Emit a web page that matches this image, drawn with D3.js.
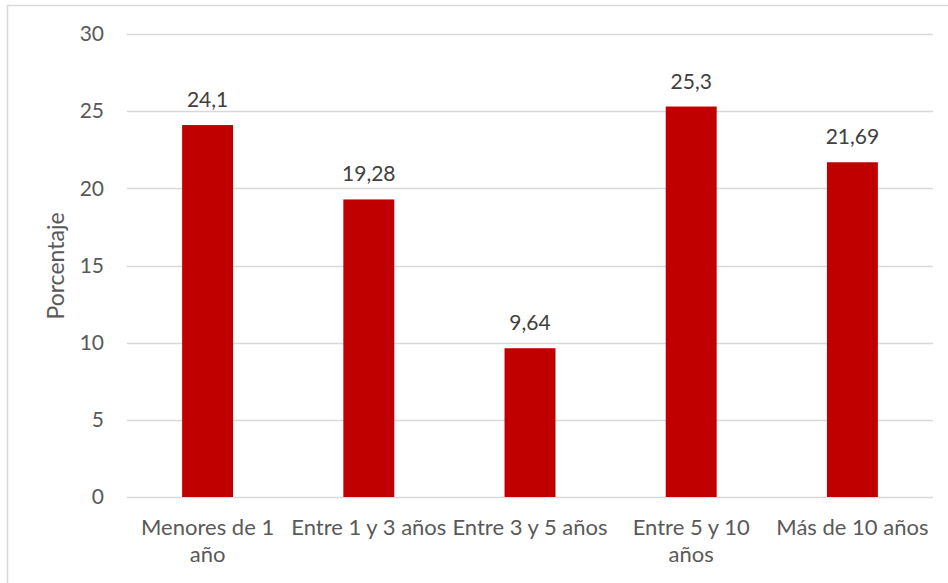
<!DOCTYPE html>
<html>
<head>
<meta charset="utf-8">
<script src="https://cdn.jsdelivr.net/npm/d3@7"></script>
<style>
  html, body { margin: 0; padding: 0; background: #fff; }
  svg { display: block; }
  text { font-family: Lato, "Open Sans", sans-serif; }
</style>
</head>
<body>
<svg id="chart" width="948" height="583"></svg>
<script>
// Antigüedad: porcentaje por tramo
const categories = ["Menores de 1\naño", "Entre 1 y 3 años", "Entre 3 y 5 años", "Entre 5 y 10\naños", "Más de 10 años"];
const values = [24.1, 19.28, 9.64, 25.3, 21.69];
const yTicks = [0, 5, 10, 15, 20, 25, 30];
const yTitle = "Porcentaje";

const svg = d3.select("#chart");
const W = 948, H = 583;
const margin = { top: 34, right: 15, bottom: 86, left: 127 };
const plotW = W - margin.left - margin.right;
const plotH = H - margin.top - margin.bottom;

// chart frame
svg.append("rect")
  .attr("x", 7.5).attr("y", 5.5)
  .attr("width", W + 10).attr("height", H + 10)
  .attr("fill", "#fff").attr("stroke", "#d9d9d9").attr("stroke-width", 1.5);

const g = svg.append("g").attr("transform", `translate(${margin.left},${margin.top})`);

const x = d3.scaleBand().domain(categories).range([0, plotW]).paddingInner(0.684).paddingOuter(0.342);
const y = d3.scaleLinear().domain([0, 30]).range([plotH, 0]);

// gridlines
g.append("g").selectAll("line").data(yTicks).join("line")
  .attr("x1", 0).attr("x2", plotW)
  .attr("y1", d => Math.round(y(d)) + 0.5).attr("y2", d => Math.round(y(d)) + 0.5)
  .attr("stroke", "#d9d9d9").attr("stroke-width", 1.3);

// y axis labels
const yAxis = g.append("g").call(d3.axisLeft(y).tickValues(yTicks).tickSize(0).tickPadding(23).tickFormat(d3.format("d")));
yAxis.select(".domain").remove();
yAxis.selectAll("text").attr("font-size", 21).attr("fill", "#595959").attr("font-family", "Lato, sans-serif");

// bars
g.append("g").selectAll("rect").data(values).join("rect")
  .attr("x", (d, i) => x(categories[i]))
  .attr("y", d => y(d))
  .attr("width", x.bandwidth())
  .attr("height", d => y(0) - y(d))
  .attr("fill", "#c00000");

// value labels
g.append("g").selectAll("text").data(values).join("text")
  .attr("x", (d, i) => x(categories[i]) + x.bandwidth() / 2)
  .attr("y", d => y(d) - 18)
  .attr("text-anchor", "middle")
  .attr("font-size", 21)
  .attr("fill", "#404040")
  .text(d => String(d).replace(".", ","));

// category labels
const cat = g.append("g").selectAll("text").data(categories).join("text")
  .attr("x", d => x(d) + x.bandwidth() / 2)
  .attr("y", plotH + 38)
  .attr("text-anchor", "middle")
  .attr("font-size", 22)
  .attr("fill", "#595959");
cat.each(function(d) {
  const t = d3.select(this);
  d.split("\n").forEach((line, i) => {
    t.append("tspan").attr("x", t.attr("x")).attr("dy", i === 0 ? 0 : 27).text(line);
  });
});

// y axis title
svg.append("text")
  .attr("transform", "translate(64,266) rotate(-90)")
  .attr("text-anchor", "middle")
  .attr("font-size", 23)
  .attr("fill", "#595959")
  .text(yTitle);
</script>
</body>
</html>
